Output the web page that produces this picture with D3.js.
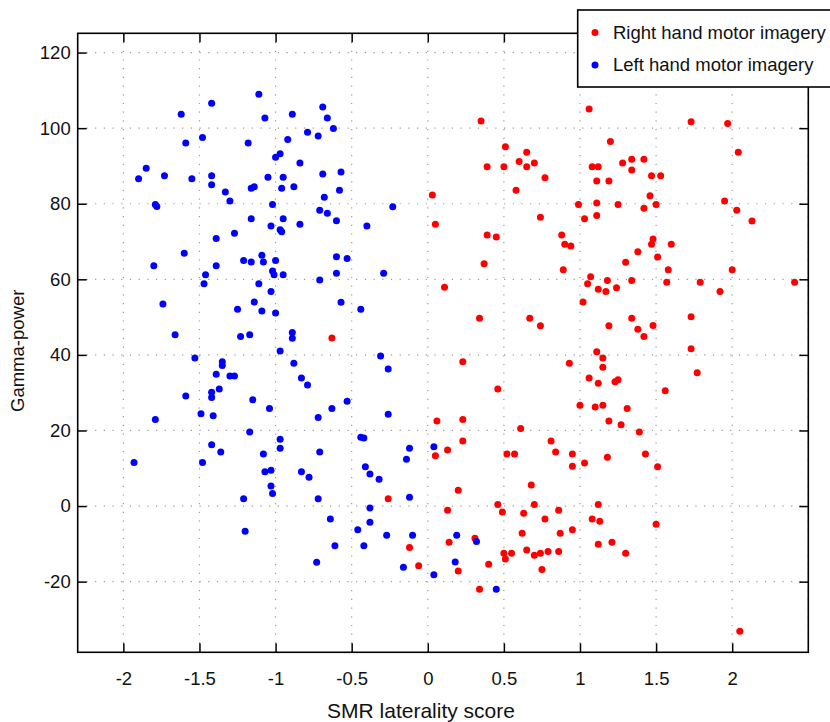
<!DOCTYPE html>
<html>
<head>
<meta charset="utf-8">
<script src="https://cdn.jsdelivr.net/npm/d3@7"></script>
<style>
  body { margin: 0; background: #fff; }
  text { font-family: "Liberation Sans", Arial, Helvetica, sans-serif; }
</style>
</head>
<body>
<svg id="chart" width="830" height="722"></svg>
<script>
// series names as in the legend
const seriesNames = ["Right hand motor imagery", "Left hand motor imagery"];
const seriesColors = ["#ff0000", "#0000ff"];

// right hand motor imagery (red)
const rightX = [
  -0.63, -0.26, 0.03, 0.05, 0.11, 0.35, 0.34, 0.23, 0.06, 0.23,
  0.05, 0.13, 0.23, 0.20, 0.13, 0.31, 0.14, -0.12, -0.06, 0.20,
  0.34, 0.40, 0.46, 0.93, 1.11, 1.15, 1.15, 1.06, 1.12, 1.23,
  1.25, 1.00, 1.10, 1.15, 1.31, 1.19, 1.27, 1.39, 0.61, 0.52,
  0.57, 0.81, 0.84, 0.95, 0.95, 1.03, 1.18, 0.68, 0.46, 0.49,
  0.70, 0.63, 0.86, 0.77, 1.12, 1.08, 1.13, 0.62, 0.87, 0.95,
  0.65, 0.50, 0.51, 0.55, 0.70, 0.74, 0.79, 0.86, 0.75, 1.12,
  1.21, 1.30, 1.06, 1.20, 0.51, 0.65, 0.60, 0.65, 0.70, 0.39,
  0.50, 0.77, 0.58, 1.08, 1.12, 1.28, 1.34, 1.34, 1.11, 1.19,
  1.11, 1.25, 0.99, 1.03, 1.11, 0.74, 0.39, 0.45, 0.88, 0.90,
  0.94, 1.38, 1.30, 0.37, 0.89, 1.07, 1.05, 1.12, 1.17, 1.18,
  1.24, 1.34, 1.02, 0.67, 0.74, 1.19, 1.34, 1.38, 1.73, 1.97,
  2.04, 1.42, 1.47, 1.53, 1.46, 1.42, 1.50, 1.95, 2.03, 2.13,
  1.48, 1.47, 1.60, 1.51, 1.58, 2.00, 1.57, 1.79, 1.92, 2.41,
  1.42, 1.48, 1.73, 1.73, 1.77, 1.56, 1.43, 1.51, 1.50, 2.05
];
const rightY = [
  44.5, 1.9, 82.3, 74.6, 57.9, 101.9, 49.7, 38.2, 22.5, 22.9,
  13.3, 14.8, 17.2, 4.2, -1.1, -8.5, -9.6, -11.0, -15.8, -17.2,
  -22.0, -15.4, 31.0, 37.8, 40.8, 39.2, 36.7, 33.9, 32.5, 32.9,
  33.4, 26.7, 26.2, 26.7, 25.8, 22.5, 21.5, 19.6, 20.5, 13.8,
  13.8, 17.2, 14.3, 13.8, 10.5, 11.4, 12.9, 5.6, 0.4, -1.6,
  0.4, -1.9, -1.1, -3.4, 0.4, -3.4, -4.0, -7.2, -7.2, -6.3,
  -11.6, -12.5, -14.0, -12.5, -13.0, -12.5, -12.0, -12.0, -16.8, -10.1,
  -9.6, -12.5, 105.1, 96.5, 95.1, 93.6, 91.2, 89.8, 90.8, 89.8,
  89.8, 86.9, 83.6, 89.8, 89.8, 90.8, 91.8, 88.9, 86.0, 86.0,
  80.2, 79.8, 79.8, 76.0, 76.9, 76.4, 71.7, 71.2, 71.7, 69.3,
  68.8, 67.3, 64.5, 64.1, 62.5, 60.7, 58.8, 57.4, 56.8, 59.7,
  57.8, 59.7, 54.0, 49.7, 47.7, 47.7, 49.7, 46.8, 101.7, 101.2,
  93.6, 91.8, 87.4, 87.4, 82.1, 78.8, 79.8, 80.7, 78.3, 75.4,
  70.7, 69.3, 69.3, 65.9, 62.5, 62.5, 59.2, 59.2, 56.8, 59.2,
  44.9, 47.8, 50.1, 41.6, 35.3, 30.5, 13.8, 10.4, -4.8, -33.1
];

// left hand motor imagery (blue)
const leftX = [
  -1.11, -1.42, -1.62, -1.07, -0.89, -0.69, -0.66, -0.62, -0.79, -0.72,
  -0.92, -1.18, -1.48, -1.59, -0.97, -1.00, -0.84, -0.57, -0.69, -1.85,
  -1.90, -1.73, -1.55, -1.42, -1.05, -0.95, -1.42, -1.33, -1.30, -1.16,
  -1.14, -0.96, -0.88, -1.79, -1.78, -1.02, -1.16, -0.95, -1.03, -0.97,
  -0.96, -0.84, -1.27, -1.39, -1.60, -1.80, -1.39, -1.46, -1.21, -1.16,
  -1.09, -1.08, -1.00, -1.02, -1.01, -0.95, -1.47, -1.11, -1.03, -1.14,
  -1.09, -1.00, -1.25, -1.74, -1.66, -1.23, -1.17, -0.89, -0.89, -0.97,
  -1.53, -1.35, -1.35, -1.39, -1.30, -1.27, -0.88, -0.83, -0.79, -1.37,
  -1.42, -1.42, -1.59, -1.15, -1.04, -1.49, -1.41, -1.79, -1.17, -0.97,
  -0.97, -1.42, -1.36, -1.08, -1.93, -1.48, -0.68, -0.58, -0.23, -0.71,
  -0.66, -0.60, -0.40, -0.71, -0.60, -0.53, -0.60, -0.29, -0.57, -0.44,
  -0.31, -0.26, -0.72, -0.63, -0.53, -0.26, -0.71, -0.44, -0.42, -0.12,
  -0.14, 0.04, -1.07, -1.03, -0.83, -0.78, -0.41, -0.38, -0.32, -1.03,
  -1.02, -1.21, -0.72, -0.12, -0.38, -0.64, -1.20, -0.38, -0.46, -0.27,
  -0.10, -0.61, -0.42, 0.19, 0.32, -0.73, -0.16, 0.18, 0.04, 0.45
];
const leftY = [
  109.0, 106.6, 103.7, 102.7, 103.7, 105.6, 102.7, 99.9, 98.9, 97.9,
  97.0, 96.1, 97.5, 96.1, 93.2, 92.3, 90.8, 88.4, 87.9, 89.4,
  86.6, 87.4, 86.6, 87.4, 87.0, 87.0, 85.0, 83.1, 80.7, 84.1,
  84.5, 84.1, 84.5, 79.8, 79.3, 79.8, 76.0, 76.0, 74.1, 73.1,
  72.6, 74.6, 72.2, 70.8, 66.9, 63.6, 63.6, 61.2, 65.0, 64.6,
  66.4, 64.6, 65.0, 62.2, 61.2, 61.2, 58.8, 58.8, 56.8, 54.0,
  51.6, 51.1, 52.1, 53.5, 45.3, 44.9, 45.3, 45.9, 44.4, 41.0,
  39.2, 38.2, 37.2, 34.9, 34.4, 34.4, 37.8, 33.9, 32.0, 31.0,
  30.1, 28.7, 29.1, 28.1, 25.8, 24.4, 23.9, 22.9, 19.6, 17.7,
  15.3, 16.2, 14.3, 13.8, 11.5, 11.5, 81.7, 83.6, 79.2, 78.3,
  77.5, 75.5, 74.1, 59.8, 66.0, 65.5, 61.6, 61.6, 53.9, 52.1,
  39.7, 36.3, 23.4, 25.8, 27.7, 24.3, 14.3, 18.2, 18.0, 15.3,
  12.4, 15.7, 9.1, 9.5, 9.1, 7.6, 10.4, 8.5, 7.1, 5.3,
  3.3, 1.9, 1.9, 2.3, -0.5, -3.4, -6.7, -4.3, -6.3, -7.7,
  -7.7, -10.5, -10.5, -7.7, -9.4, -14.9, -16.2, -14.8, -18.2, -22.0
];

const xTicks = [-2, -1.5, -1, -0.5, 0, 0.5, 1, 1.5, 2];
const yTicks = [-20, 0, 20, 40, 60, 80, 100, 120];
const xLabel = "SMR laterality score";
const yLabel = "Gamma-power";

const svg = d3.select("#chart");
const plotL = 77.7, plotR = 808.3, plotT = 33.3, plotB = 652.3;

const x = d3.scaleLinear().domain([-2.3, 2.5]).range([plotL, plotR]);
const y = d3.scaleLinear().domain([-38.7, 125.1]).range([plotB, plotT]);

// dotted grid
const grid = svg.append("g").attr("stroke", "#9a9a9a").attr("stroke-width", 1.2)
  .attr("stroke-dasharray", "1.2,7.5");
grid.selectAll(".gx").data(xTicks.concat([2.5])).join("line")
  .attr("x1", d => x(d)).attr("x2", d => x(d))
  .attr("y1", plotT).attr("y2", plotB);
grid.selectAll(".gy").data(yTicks).join("line")
  .attr("x1", plotL).attr("x2", plotR)
  .attr("y1", d => y(d)).attr("y2", d => y(d));

// points: right hand first, left hand on top
const red = rightX.map((v, i) => [v, rightY[i]]);
const blue = leftX.map((v, i) => [v, leftY[i]]);
svg.append("g").selectAll("circle").data(red).join("circle")
  .attr("cx", d => x(d[0])).attr("cy", d => y(d[1])).attr("r", 3.5)
  .attr("fill", seriesColors[0]);
svg.append("g").selectAll("circle").data(blue).join("circle")
  .attr("cx", d => x(d[0])).attr("cy", d => y(d[1])).attr("r", 3.5)
  .attr("fill", seriesColors[1]);

// axes with inward ticks on all four sides
const fmt = d => String(d);
svg.append("g").attr("transform", `translate(0,${plotB})`)
  .call(d3.axisBottom(x).tickValues(xTicks).tickSize(-9).tickSizeOuter(0).tickPadding(20).tickFormat(fmt));
svg.append("g").attr("transform", `translate(${plotL},0)`)
  .call(d3.axisLeft(y).tickValues(yTicks).tickSize(-9).tickSizeOuter(0).tickPadding(7).tickFormat(fmt));
svg.append("g").attr("transform", `translate(0,${plotT})`)
  .call(d3.axisTop(x).tickValues(xTicks).tickSize(-9).tickSizeOuter(0).tickFormat(""));
svg.append("g").attr("transform", `translate(${plotR},0)`)
  .call(d3.axisRight(y).tickValues(yTicks).tickSize(-9).tickSizeOuter(0).tickFormat(""));
svg.selectAll(".domain").remove();
svg.selectAll(".tick line").attr("stroke", "#000").attr("stroke-width", 1.5);
svg.selectAll(".tick text").attr("font-size", 18.5).attr("fill", "#111")
  .attr("font-family", '"Liberation Sans", Arial, sans-serif');

svg.append("rect").attr("x", plotL).attr("y", plotT)
  .attr("width", plotR - plotL).attr("height", plotB - plotT)
  .attr("fill", "none").attr("stroke", "#000").attr("stroke-width", 1.6);

// axis titles
svg.append("text").attr("x", 421).attr("y", 718)
  .attr("text-anchor", "middle").attr("font-size", 21).attr("fill", "#111").text(xLabel);
svg.append("text").attr("transform", `translate(24,${(plotT + plotB) / 2 + 8}) rotate(-90)`)
  .attr("text-anchor", "middle").attr("font-size", 18.5).attr("fill", "#111").text(yLabel);

// legend
const lg = svg.append("g");
lg.append("rect").attr("x", 577.7).attr("y", 10).attr("width", 280).attr("height", 77)
  .attr("fill", "#fff").attr("stroke", "#000").attr("stroke-width", 1.6);
seriesNames.forEach((name, i) => {
  const cy = 32.5 + i * 32.5;
  lg.append("circle").attr("cx", 595).attr("cy", cy).attr("r", 3.5).attr("fill", seriesColors[i]);
  lg.append("text").attr("x", 613).attr("y", cy).attr("dy", "0.35em")
    .attr("font-size", 18.5).attr("fill", "#111").text(name);
});
</script>
</body>
</html>
